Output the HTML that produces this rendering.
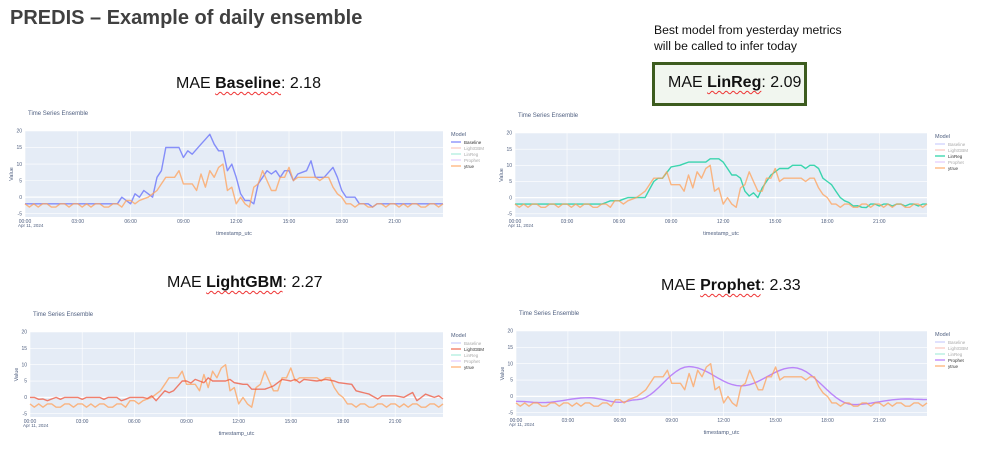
<!DOCTYPE html><html><head><meta charset="utf-8"><style>
body{margin:0;width:999px;height:452px;background:#fff;overflow:hidden;position:relative;font-family:"Liberation Sans",sans-serif}
.t{position:absolute;white-space:nowrap}
.mae{font-size:16px;color:#111}
.mae b{text-decoration:underline wavy #e33;text-decoration-thickness:1px;text-underline-offset:3px}
svg{position:absolute;left:0;top:0}
</style></head><body>
<div class="t" style="left:10px;top:7px;font-size:20px;font-weight:bold;color:#404040">PREDIS – Example of daily ensemble</div>
<div class="t" style="left:654px;top:22px;font-size:12.2px;line-height:16px;color:#111">Best model from yesterday metrics<br>will be called to infer today</div>
<div class="t" style="left:652px;top:62px;width:149px;height:38px;border:3px solid #3d5c1f;background:#f1f6ef"></div>
<div class="t mae" style="left:176px;top:75px">MAE <b>Baseline</b>: 2.18</div>
<div class="t mae" style="left:668px;top:74px">MAE <b>LinReg</b>: 2.09</div>
<div class="t mae" style="left:167px;top:274px">MAE <b>LightGBM</b>: 2.27</div>
<div class="t mae" style="left:661px;top:277px">MAE <b>Prophet</b>: 2.33</div>
<svg id="s" width="999" height="452" font-family="Liberation Sans, sans-serif"></svg>
<script>
function interp(k){var o=[];for(var i=0;i<96;i++){var h=i/4;for(var j=0;j<k.length-1;j++){if(h>=k[j][0]&&h<=k[j+1][0]){var a=k[j],b=k[j+1];o.push(a[1]+(b[1]-a[1])*(h-a[0])/(b[0]-a[0]||1));break;}}if(o.length<i+1)o.push(k[k.length-1][1]);}return o;}
function osc(h){var p=[-2,-3,-2,-3,-2,-2,-3,-3,-2,-2,-3,-2];return p[Math.round(h*4)%12];}
var T=[];var tk=[[6.5,-1],[7,0],[7.5,2],[8,6],[8.5,6],[8.75,8],[9,4],[9.5,4],[9.75,2],[10,7],[10.25,3],[10.5,8],[10.75,6],[11,9],[11.25,10],[11.5,2],[11.75,3],[12,-2],[12.25,0],[12.5,-2],[12.75,-3],[13,3],[13.25,4],[13.5,8],[13.75,5],[14,2],[14.25,2],[14.5,6],[14.75,6],[15,9],[15.25,5],[15.5,6],[16.5,6],[16.75,5],[17,6],[17.25,6],[17.5,3],[17.75,1],[18,0],[18.25,-2]];
var tv=interp(tk);
for(var i=0;i<96;i++){var h=i/4;if(h<6.5){T.push(h>5.5?osc(h)+1:osc(h));}else if(h>18.25)T.push(osc(h));else T.push(tv[i]);}
var B=interp([[0,-2],[5.25,-2],[5.5,0],[6,-2],[6.25,1],[6.5,0],[6.75,2],[7.25,0],[7.5,6],[7.75,8],[8,15],[8.75,15],[9,12],[9.25,14],[9.5,13],[10,16],[10.5,19],[10.75,16],[11,14],[11.25,14],[11.5,8],[11.75,10],[12,6],[12.25,1],[12.5,-1],[12.75,-1],[13,-2],[13.25,4],[13.75,8],[14,7],[14.25,8],[14.5,6],[14.75,8],[15,8],[15.25,5],[15.5,7],[16,8],[16.25,11],[16.5,6],[17,6],[17.5,9],[17.75,6],[18,2],[18.25,0],[18.75,0],[19,-2],[19.5,-2],[19.75,-3],[20,-2],[24,-2]]);
var L=interp([[0,-2],[5,-2],[5.5,-1],[6,-1],[6.5,0],[7.5,0],[8,5],[8.25,6],[8.5,6],[9,9.5],[9.5,10],[10,11],[11,11],[11.25,12],[11.75,12],[12,11],[12.25,9],[12.5,7],[12.75,7],[13,6],[13.25,2],[13.5,0.5],[13.75,1.5],[14,0],[14.25,3],[14.75,7],[15,8],[15.25,9],[15.75,9],[16,10],[16.5,10],[16.75,9],[17,10],[17.25,10],[17.5,9],[17.75,6],[18.25,4],[18.75,0],[19,-1],[19.5,-2],[20,-3],[20.5,-2],[21,-2],[24,-2]]);
for(var i=76;i<96;i++)L[i]+= (i%3==0?-0.6:0);
var G=interp([[0,0],[0.5,0],[1,-1],[1.5,0],[5,0],[5.25,-1],[5.5,0],[6.5,0],[7,0.5],[7.25,-1],[7.75,2],[8.25,2],[8.75,5],[9.25,5],[9.5,5.5],[10,4.5],[10.25,6],[10.5,5],[11.25,5],[11.5,5.5],[11.75,4.5],[12.25,4],[12.5,4],[12.75,2.5],[13.5,2.5],[14,3.5],[14.5,5.5],[15,5],[15.25,5.5],[15.5,4.5],[15.75,5.5],[16.5,5],[17,5.5],[17.5,5],[17.75,4.5],[18.5,4],[18.75,2],[19.5,1],[20,-0.5],[20.25,0.5],[21,0.5],[21.5,0],[22,1.5],[22.25,-1],[22.75,1],[23.25,0],[23.5,0.5],[23.75,-0.5],[24,0]]);
for(var i=0;i<40;i++)G[i]+=(i%5==2?-0.6:0);
var P=[];var pk=[[0,-1.5],[1.5,-1.9],[4.2,-0.4],[6,-1.8],[7,-1],[10,9.1],[13,3.2],[16,8.8],[19.5,-2.5],[22.5,-0.8],[24,-1]];
for(var i=0;i<96;i++){var h=i/4;for(var j=0;j<pk.length-1;j++){var a=pk[j],b=pk[j+1];if(h>=a[0]&&h<=b[0]){var t=(h-a[0])/(b[0]-a[0]);P.push(a[1]+(b[1]-a[1])*(1-Math.cos(Math.PI*t))/2);break;}}}
var C={B:'#636efa',G:'#ef553b',L:'#00cc96',P:'#ab63fa',T:'#ffa15a'};
var out='';
function chart(x0,y0,x1,y1,act,series){
 var s='';var fy=function(v){return y0+(20-v)*(y1-y0)/26;};var fx=function(h){return x0+h*(x1-x0)/23.75;};
 s+='<text x="'+(x0+3)+'" y="'+(y0-16)+'" font-size="6" fill="#506080">Time Series Ensemble</text>';
 s+='<rect x="'+x0+'" y="'+y0+'" width="'+(x1-x0)+'" height="'+(y1-y0)+'" fill="#e5ecf6"/>';
 [20,15,10,5,0,-5].forEach(function(v){var y=fy(v);s+='<line x1="'+x0+'" x2="'+x1+'" y1="'+y+'" y2="'+y+'" stroke="#fff" stroke-width="'+(v==0?1.2:0.6)+'"/><text x="'+(x0-3)+'" y="'+(y+1.7)+'" font-size="5" text-anchor="end" fill="#506080">'+v+'</text>';});
 ['00:00','03:00','06:00','09:00','12:00','15:00','18:00','21:00'].forEach(function(l,i){var x=fx(i*3);s+='<line x1="'+x+'" x2="'+x+'" y1="'+y0+'" y2="'+y1+'" stroke="#fff" stroke-width="0.6"/><text x="'+x+'" y="'+(y1+6)+'" font-size="5" text-anchor="middle" fill="#506080">'+l+'</text>';});
 s+='<text x="'+(x0-7)+'" y="'+(y1+10)+'" font-size="4.5" fill="#506080">Apr 11, 2024</text>';
 s+='<text x="'+((x0+x1)/2)+'" y="'+(y1+18)+'" font-size="5.5" text-anchor="middle" fill="#506080">timestamp_utc</text>';
 s+='<text transform="translate('+(x0-12)+','+((y0+y1)/2)+') rotate(-90)" font-size="5.5" text-anchor="middle" fill="#506080">Value</text>';
 series.forEach(function(se){var d='';se[0].forEach(function(v,i){d+=(i?'L':'M')+fx(i/4).toFixed(1)+','+fy(v).toFixed(1);});s+='<path d="'+d+'" fill="none" stroke="'+se[1]+'" stroke-width="1.4" stroke-opacity="0.75" stroke-linejoin="round"/>';});
 var lx=x1+8;s+='<text x="'+lx+'" y="'+(y0+5)+'" font-size="5.5" fill="#506080">Model</text>';
 [['Baseline','B'],['LightGBM','G'],['LinReg','L'],['Prophet','P'],['ytrue','T']].forEach(function(m,i){var y=y0+11+i*6;var on=(m[1]==act||m[1]=='T');s+='<line x1="'+lx+'" x2="'+(lx+10)+'" y1="'+y+'" y2="'+y+'" stroke="'+C[m[1]]+'" stroke-width="1.3" opacity="'+(on?0.8:0.3)+'"/><text x="'+(lx+13)+'" y="'+(y+1.8)+'" font-size="4.5" fill="'+(on?'#333':'#aaa')+'">'+m[0]+'</text>';});
 out+=s;}
chart(25,131,443,217,'B',[[B,C.B],[T,C.T]]);
chart(515,133,927,217,'L',[[L,C.L],[T,C.T]]);
chart(30,332,443,417,'G',[[T,C.T],[G,C.G]]);
chart(516,331,927,416,'P',[[P,C.P],[T,C.T]]);
document.getElementById('s').innerHTML=out;
</script>
</body></html>
